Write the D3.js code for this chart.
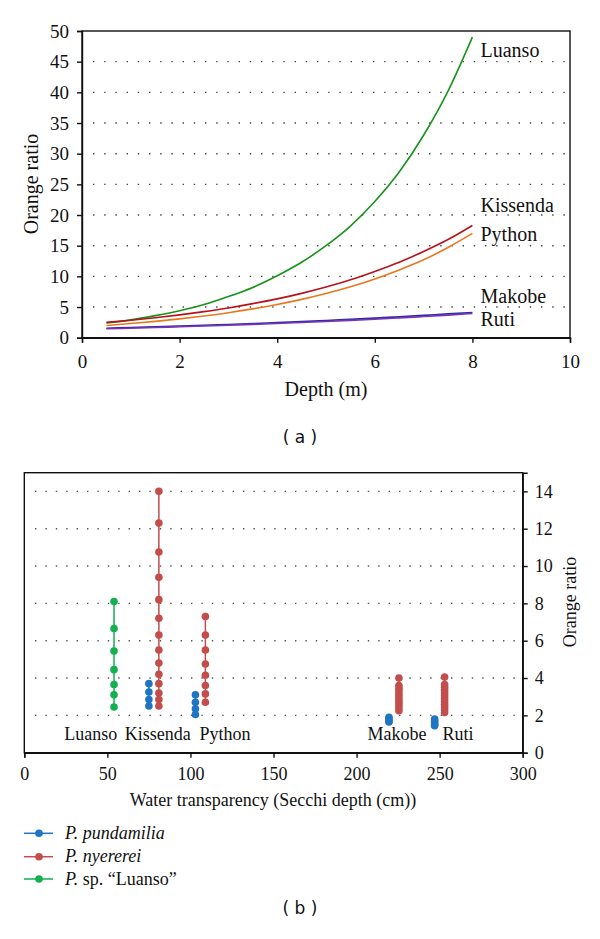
<!DOCTYPE html>
<html><head><meta charset="utf-8">
<script src="https://cdn.jsdelivr.net/npm/d3@7"></script>
<style>
body{margin:0;background:#fff;}
svg{display:block;}
.serif{font-family:"Liberation Serif","Times New Roman",serif;fill:#111;}
</style></head>
<body>
<svg id="chart" width="600" height="939"></svg>
<script>
// ---------- Panel (a) data ----------
const depths = [0.5,1,1.5,2,2.5,3,3.5,4,4.5,5,5.5,6,6.5,7,7.5,8];
const luanso   = [2.4,2.9,3.6,4.4,5.4,6.7,8.2,10.1,12.3,15.0,18.2,22.2,27.0,33.0,40.2,49.0];
const kissenda = [2.5,2.85,3.26,3.72,4.25,4.85,5.55,6.33,7.23,8.26,9.43,10.8,12.3,14.05,16.0,18.3];
const python   = [2.0,2.31,2.66,3.07,3.54,4.08,4.7,5.42,6.25,7.2,8.3,9.58,11.05,12.7,14.7,17.0];
const makobe   = [1.55,1.66,1.77,1.89,2.02,2.16,2.3,2.46,2.62,2.8,2.99,3.19,3.41,3.64,3.88,4.1];
const ruti     = [1.45,1.55,1.66,1.78,1.9,2.03,2.17,2.32,2.48,2.65,2.83,3.02,3.23,3.45,3.68,3.95];
const lakeNamesA = ["Luanso","Kissenda","Python","Makobe","Ruti"];
const xTicksA = [0,2,4,6,8,10];
const yTicksA = [0,5,10,15,20,25,30,35,40,45,50];

// ---------- Panel (b) data ----------
const lakesB = ["Luanso","Kissenda","Python","Makobe","Ruti"];
const secchiLuansoSp = 54;
const luansoSp = [8.1,6.65,5.45,4.45,3.65,3.1,2.45];
const secchiPundamilia = [75,103,219.5,247];
const pundamilia = [
  [3.7,3.25,2.85,2.5],
  [3.1,2.7,2.35,2.05],
  [1.9,1.8,1.7,1.65],
  [1.8,1.7,1.6,1.5,1.45]
];
const secchiNyererei = [81,109,225.5,253];
const nyererei = [
  [14.0,12.3,10.75,9.4,8.2,7.2,6.3,5.5,4.8,4.2,3.7,3.2,2.85,2.5],
  [7.3,6.3,5.5,4.75,4.15,3.6,3.15,2.7],
  [4.0,3.6,3.45,3.3,3.15,3.0,2.85,2.7,2.55,2.4,2.25],
  [4.05,3.65,3.5,3.35,3.2,3.05,2.9,2.75,2.6,2.45,2.3,2.15]
];
const lakeLabelX = [40,80.3,120.8,224.4,261];
const xTicksB = [0,50,100,150,200,250,300];
const yTicksB = [0,2,4,6,8,10,12,14];
const legendNames = ["P. pundamilia","P. nyererei","P. sp. \u201cLuanso\u201d"];

const svg = d3.select("#chart");

// ================= Panel (a) =================
const xa = d3.scaleLinear().domain([0,10]).range([82,570]);
const ya = d3.scaleLinear().domain([0,50]).range([337.7,31]);
const ga = svg.append("g");

ga.selectAll("line.grid").data(yTicksA.filter(d=>d>0&&d<50)).enter().append("line")
  .attr("x1",93).attr("x2",570).attr("y1",d=>ya(d)).attr("y2",d=>ya(d))
  .attr("stroke","#444").attr("stroke-width",1.4).attr("stroke-dasharray","1.4 9.8");

ga.append("rect").attr("x",xa(0)).attr("y",ya(50)).attr("width",xa(10)-xa(0)).attr("height",ya(0)-ya(50))
  .attr("fill","none").attr("stroke","#111").attr("stroke-width",1.4);

const axA = ga.append("g").attr("transform",`translate(0,${ya(0)})`)
  .call(d3.axisBottom(xa).tickValues(xTicksA).tickSize(5).tickPadding(12).tickFormat(d3.format("d")));
const ayA = ga.append("g").attr("transform",`translate(${xa(0)},0)`)
  .call(d3.axisLeft(ya).tickValues(yTicksA).tickSize(5).tickPadding(8).tickFormat(d3.format("d")));
[axA,ayA].forEach(a=>{
  a.select(".domain").attr("stroke","#111").attr("stroke-width",1.4);
  a.selectAll(".tick line").attr("stroke","#111").attr("stroke-width",1.4);
  a.selectAll(".tick text").attr("class","serif").style("font-size","19px").attr("fill","#111");
});

const seriesA = [
  {name:"Luanso", vals:luanso, color:"#17931c"},
  {name:"Kissenda", vals:kissenda, color:"#b8121b"},
  {name:"Python", vals:python, color:"#e8781e"},
  {name:"Makobe", vals:makobe, color:"#2a2aa8"},
  {name:"Ruti", vals:ruti, color:"#7a35b5"}
];
const lineA = d3.line().x((d,i)=>xa(depths[i])).y(d=>ya(d)).curve(d3.curveMonotoneX);
ga.selectAll("path.series").data(seriesA).enter().append("path")
  .attr("d",d=>lineA(d.vals)).attr("fill","none").attr("stroke",d=>d.color).attr("stroke-width",1.6);

const labelBaseA = [57,211.7,241,302.7,326];
ga.selectAll("text.lab").data(lakeNamesA).enter().append("text")
  .attr("class","serif").attr("x",480.5).attr("y",(d,i)=>labelBaseA[i])
  .style("font-size","20px").text(d=>d);

ga.append("text").attr("class","serif").attr("text-anchor","middle")
  .attr("transform","translate(38,184) rotate(-90)").style("font-size","20px").text("Orange ratio");
ga.append("text").attr("class","serif").attr("text-anchor","middle")
  .attr("x",326).attr("y",396).style("font-size","20px").text("Depth (m)");
svg.append("text").attr("x",300).attr("y",443).attr("text-anchor","middle")
  .style("font-family","'DejaVu Sans',sans-serif").style("font-size","17px").attr("fill","#111").text("( a )");

// ================= Panel (b) =================
const xb = d3.scaleLinear().domain([0,300]).range([24.3,522.7]);
const yb = d3.scaleLinear().domain([0,15]).range([752.7,472.7]);
const gb = svg.append("g");

gb.selectAll("line.grid").data(yTicksB.filter(d=>d>0)).enter().append("line")
  .attr("x1",35).attr("x2",522).attr("y1",d=>yb(d)).attr("y2",d=>yb(d))
  .attr("stroke","#555").attr("stroke-width",1.4).attr("stroke-dasharray","1.4 9.0");

gb.append("rect").attr("x",xb(0)).attr("y",yb(15)).attr("width",xb(300)-xb(0)).attr("height",yb(0)-yb(15))
  .attr("fill","none").attr("stroke","#111").attr("stroke-width",1.4);

const axB = gb.append("g").attr("transform",`translate(0,${yb(0)})`)
  .call(d3.axisBottom(xb).tickValues(xTicksB).tickSize(5).tickPadding(10).tickFormat(d3.format("d")));
const ayB = gb.append("g").attr("transform",`translate(${xb(300)},0)`)
  .call(d3.axisRight(yb).tickValues(yTicksB).tickSize(5).tickPadding(7).tickFormat(d3.format("d")));
[axB,ayB].forEach(a=>{
  a.select(".domain").attr("stroke","#111").attr("stroke-width",1.4);
  a.selectAll(".tick line").attr("stroke","#111").attr("stroke-width",1.4);
  a.selectAll(".tick text").attr("class","serif").style("font-size","18px").attr("fill","#111");
});

const blue="#1f74c4", red="#c24d4b", green="#12b04f";
function column(x, vals, color){
  const g = gb.append("g");
  g.append("line").attr("x1",xb(x)).attr("x2",xb(x))
    .attr("y1",yb(d3.max(vals))).attr("y2",yb(d3.min(vals)))
    .attr("stroke",color).attr("stroke-width",1.5);
  g.selectAll("circle").data(vals).enter().append("circle")
    .attr("cx",xb(x)).attr("cy",d=>yb(d)).attr("r",3.8).attr("fill",color);
}
column(secchiLuansoSp, luansoSp, green);
pundamilia.forEach((v,i)=>column(secchiPundamilia[i], v, blue));
nyererei.forEach((v,i)=>column(secchiNyererei[i], v, red));

gb.selectAll("text.lab").data(lakesB).enter().append("text")
  .attr("class","serif").attr("text-anchor","middle")
  .attr("x",(d,i)=>xb(lakeLabelX[i])).attr("y",740).style("font-size","18px").text(d=>d);

gb.append("text").attr("class","serif").attr("text-anchor","middle")
  .attr("transform","translate(576,602) rotate(-90)").style("font-size","18px").text("Orange ratio");
gb.append("text").attr("class","serif").attr("text-anchor","middle")
  .attr("x",273).attr("y",806).style("font-size","18px").text("Water transparency (Secchi depth (cm))");

const legY = [833.3,856.7,879];
const legColors = [blue,red,green];
const lg = svg.append("g");
legendNames.forEach((name,i)=>{
  lg.append("line").attr("x1",24).attr("x2",53).attr("y1",legY[i]).attr("y2",legY[i])
    .attr("stroke",legColors[i]).attr("stroke-width",1.5);
  lg.append("circle").attr("cx",39).attr("cy",legY[i]).attr("r",3.8).attr("fill",legColors[i]);
  const t = lg.append("text").attr("class","serif").attr("x",65).attr("y",legY[i]+5.5).style("font-size","18px");
  if(i<2){ t.append("tspan").style("font-style","italic").text(name); }
  else {
    t.append("tspan").style("font-style","italic").text("P.");
    t.append("tspan").text(name.slice(2));
  }
});

svg.append("text").attr("x",300).attr("y",914).attr("text-anchor","middle")
  .style("font-family","'DejaVu Sans',sans-serif").style("font-size","17px").attr("fill","#111").text("( b )");
</script>
</body></html>
